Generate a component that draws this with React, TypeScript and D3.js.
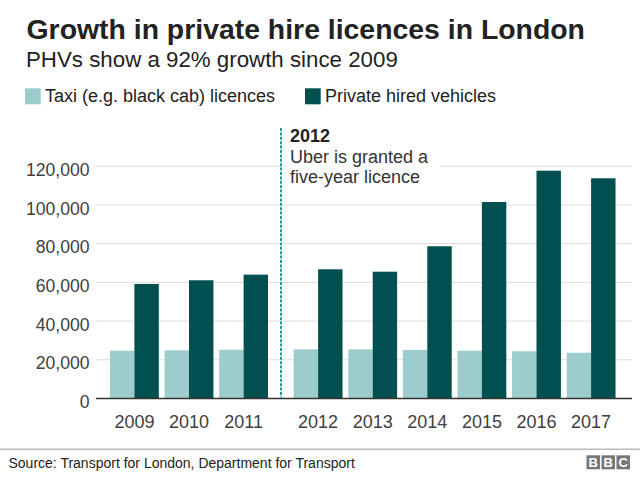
import React from "react";
import * as d3 from "d3";

const years = ["2009", "2010", "2011", "2012", "2013", "2014", "2015", "2016", "2017"];
const taxi = [24700, 24900, 25200, 25400, 25400, 25060, 24700, 24400, 23670];
const phv = [59200, 61100, 64000, 66770, 65530, 78660, 101550, 117730, 113800];
const yTicks = [0, 20000, 40000, 60000, 80000, 100000, 120000];
const seriesNames = ["Taxi (e.g. black cab) licences", "Private hired vehicles"];
const seriesColors = ["#9ccccc", "#024f4f"];

const W = 640;
const H = 478;
const FONT = "'Liberation Sans', Arial, Helvetica, sans-serif";

export default function App() {
  const y = d3.scaleLinear().domain([0, 120000]).range([398.5, 166.3]);
  const before = years.slice(0, 3);
  const after = years.slice(3);
  const xBefore = d3.scaleBand().domain(before).range([107.1, 270.9]).paddingInner(0.106).paddingOuter(0.053);
  const xAfter = d3.scaleBand().domain(after).range([290.8, 618.4]).paddingInner(0.106).paddingOuter(0.053);
  const xOf = (yr: string) => (before.includes(yr) ? xBefore(yr)! : xAfter(yr)!);
  const bw = xAfter.bandwidth();
  const sub = d3.scaleBand().domain(["taxi", "phv"]).range([0, bw]);
  const fmt = d3.format(",");
  const dashX = 281;

  return (
    <svg width={W} height={H} style={{ position: "absolute", left: 0, top: 0, background: "#fff" }} fontFamily={FONT}>
      <text x={26.5} y={38.8} fontSize={28.4} fontWeight="bold" fill="#222">Growth in private hire licences in London</text>
      <text x={26} y={66.7} fontSize={22.3} fill="#222">PHVs show a 92% growth since 2009</text>

      {seriesNames.map((n, i) => {
        const lx = i === 0 ? 25 : 305;
        return (
          <g key={n}>
            <rect x={lx} y={88.3} width={15.7} height={16} fill={seriesColors[i]} />
            <text x={lx + 20} y={101.7} fontSize={18} fill="#222">{n}</text>
          </g>
        );
      })}

      {yTicks.map((t) => (
        <g key={t}>
          {t !== 0 && (
            <line x1={96} x2={632} y1={y(t)} y2={y(t)} stroke="#dcdcdc" strokeWidth={1} />
          )}
          <text x={89.5} y={y(t) + 9.5} fontSize={17.6} fill="#404040" textAnchor="end">{fmt(t)}</text>
        </g>
      ))}

      <rect x={dashX + 2} y={125} width={157} height={64} fill="#fff" />

      {years.map((yr, i) => (
        <g key={yr}>
          <rect x={xOf(yr) + sub("taxi")!} y={y(taxi[i])} width={sub.bandwidth()} height={y(0) - y(taxi[i])} fill={seriesColors[0]} />
          <rect x={xOf(yr) + sub("phv")!} y={y(phv[i])} width={sub.bandwidth()} height={y(0) - y(phv[i])} fill={seriesColors[1]} />
          <text x={xOf(yr) + bw / 2} y={428} fontSize={18} fill="#404040" textAnchor="middle">{yr}</text>
        </g>
      ))}

      <line x1={96} x2={632} y1={y(0)} y2={y(0)} stroke="#333" strokeWidth={1.5} />

      <line x1={dashX} x2={dashX} y1={128} y2={397.5} stroke="#1a9ca2" strokeWidth={2} strokeDasharray="3 1.4" />
      <text x={290} y={141.7} fontSize={18} fontWeight="bold" fill="#222">2012</text>
      <text x={290} y={163.3} fontSize={18} fill="#333">Uber is granted a</text>
      <text x={290} y={182.7} fontSize={18} fill="#333">five-year licence</text>

      <line x1={0} x2={640} y1={449.3} y2={449.3} stroke="#bbb" strokeWidth={1.5} />
      <text x={8.5} y={468} fontSize={14} fill="#222">Source: Transport for London, Department for Transport</text>
      {["B", "B", "C"].map((c, i) => (
        <g key={i}>
          <rect x={586.5 + i * 15} y={455.3} width={13.5} height={14} fill="#777" />
          <text x={586.5 + i * 15 + 6.75} y={467} fontSize={13} fontWeight="bold" fill="#fff" textAnchor="middle">{c}</text>
        </g>
      ))}
    </svg>
  );
}
